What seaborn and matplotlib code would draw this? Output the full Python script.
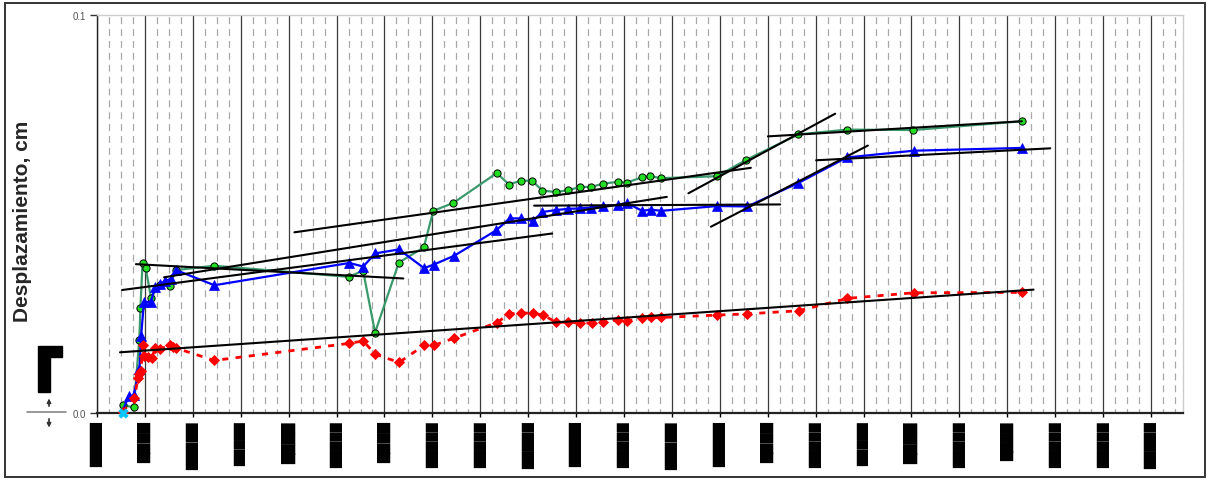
import matplotlib
matplotlib.use("Agg")
import matplotlib.pyplot as plt
import seaborn as sns
from matplotlib.lines import Line2D
from matplotlib.patches import Rectangle

# Monitoring days since first reading and cumulative displacement (cm)
green_days = [16.1, 23.0, 26.5, 27.2, 28.5, 30.5, 33.8, 39.3, 45.7, 49.2, 73.3,
              157.8, 166.6, 174.1, 189.0, 204.6, 210.6, 223.2, 250.3, 258.0, 265.4,
              272.6, 278.8, 287.5, 295.0, 302.5, 309.4, 316.7, 326.3, 331.7, 341.3,
              346.3, 353.2, 388.3, 406.5, 439.2, 469.5, 510.9, 579.1]
green_disp = [0.0020, 0.0014, 0.0184, 0.0264, 0.0376, 0.0364, 0.0290, 0.0322, 0.0320,
              0.0359, 0.0370, 0.0342, 0.0358, 0.0202, 0.0378, 0.0416, 0.0508, 0.0528,
              0.0603, 0.0574, 0.0584, 0.0583, 0.0559, 0.0555, 0.0560, 0.0568, 0.0568,
              0.0576, 0.0581, 0.0579, 0.0592, 0.0595, 0.0590, 0.0595, 0.0636, 0.0700,
              0.0712, 0.0711, 0.0733]

blue_days = [16.0, 20.0, 22.9, 26.6, 27.6, 29.4, 33.8, 36.3, 39.5, 42.6, 46.3, 49.5,
             73.5, 158.0, 166.7, 174.2, 189.1, 204.8, 210.9, 223.6, 250.0, 258.3,
             265.4, 272.9, 278.8, 287.5, 295.0, 302.5, 309.4, 316.9, 326.3, 331.7,
             341.3, 346.8, 353.4, 388.3, 407.3, 439.2, 469.5, 511.3, 579.3]
blue_disp = [0.0005, 0.0043, 0.0044, 0.0111, 0.0193, 0.0279, 0.0279, 0.0317, 0.0323,
             0.0332, 0.0337, 0.0359, 0.0321, 0.0377, 0.0368, 0.0401, 0.0411, 0.0364,
             0.0373, 0.0395, 0.0459, 0.0489, 0.0489, 0.0482, 0.0505, 0.0510, 0.0513,
             0.0514, 0.0516, 0.0520, 0.0523, 0.0528, 0.0508, 0.0511, 0.0508, 0.0520,
             0.0519, 0.0578, 0.0642, 0.0659, 0.0666]

red_days = [16.0, 23.4, 25.7, 26.6, 27.6, 28.5, 29.6, 32.1, 34.3, 36.5, 39.6, 45.4,
            47.4, 49.6, 73.4, 158.0, 166.7, 174.1, 189.1, 204.8, 210.9, 223.6, 250.3,
            258.2, 265.4, 272.8, 279.2, 287.7, 295.0, 302.5, 309.8, 316.7, 326.3,
            331.9, 341.2, 346.8, 353.4, 388.2, 406.9, 439.7, 469.9, 511.3, 579.3]
red_disp = [0.0003, 0.0038, 0.0088, 0.0098, 0.0106, 0.0172, 0.0142, 0.0141, 0.0139,
            0.0163, 0.0160, 0.0171, 0.0167, 0.0163, 0.0132, 0.0175, 0.0181, 0.0148,
            0.0127, 0.0170, 0.0170, 0.0188, 0.0227, 0.0249, 0.0251, 0.0251, 0.0246,
            0.0228, 0.0228, 0.0226, 0.0226, 0.0229, 0.0234, 0.0232, 0.0238, 0.0240,
            0.0240, 0.0246, 0.0249, 0.0257, 0.0288, 0.0302, 0.0303]

cross_days = [16.0]
cross_disp = [0.0]

# Fitted trend segments (start/end day, start/end displacement)
trend_x0 = [14.4, 24.4, 15.7, 42.0, 123.6, 273.7, 370.3, 384.4, 420.1, 450.3]
trend_y0 = [0.01525, 0.0374, 0.0309, 0.0341, 0.0454, 0.0521, 0.0552, 0.0468, 0.0695, 0.0635]
trend_x1 = [586.4, 191.8, 285.0, 356.8, 409.4, 427.8, 462.2, 482.7, 579.1, 596.9]
trend_y1 = [0.0310, 0.0338, 0.0451, 0.0543, 0.0616, 0.0524, 0.0752, 0.0672, 0.0733, 0.0665]

tick_days = list(range(0, 661, 30))
tick_labels = ["█████", "████", "█████", "█████", "████", "█████",
               "████", "█████", "█████", "█████", "█████", "█████",
               "█████", "█████", "████", "█████", "█████", "████",
               "█████", "████", "█████", "█████", "█████"]

# per-label font size for the date labels
label_sizes = [8.34, 9.50, 8.90, 8.16, 9.73, 8.53, 9.50, 8.53, 8.53, 8.71, 8.34, 8.53,
               8.90, 8.34, 9.50, 8.53, 8.16, 9.73, 8.53, 9.04, 8.53, 8.53, 8.71]

sns.set_style("white")
plt.rcParams["font.family"] = ["Liberation Sans", "DejaVu Sans"]

W, H = 1209, 481
fig = plt.figure(figsize=(W / 100, H / 100), dpi=100)
ax = fig.add_axes([97 / W, 1 - 414 / H, (1183 - 97) / W, (414 - 16) / H])

# series
sns.lineplot(x=green_days, y=green_disp, estimator=None, sort=False, ax=ax,
             color="#3a9a6c", linewidth=1.6, marker="o", markersize=5.2,
             markerfacecolor="#22dd22", markeredgecolor="black", markeredgewidth=0.7,
             zorder=3)
sns.lineplot(x=blue_days, y=blue_disp, estimator=None, sort=False, ax=ax,
             color="#0000ff", linewidth=1.6, marker="^", markersize=6.5,
             markerfacecolor="#0000ff", markeredgecolor="#0000ff", markeredgewidth=0.5,
             zorder=4)
sns.lineplot(x=red_days, y=red_disp, estimator=None, sort=False, ax=ax,
             color="#ff0000", linewidth=2.0, linestyle=(0, (2.2, 2.6)), marker="D",
             markersize=5.2, markerfacecolor="#ff0000", markeredgecolor="#ff0000",
             markeredgewidth=0.6, zorder=4)
sns.scatterplot(x=cross_days, y=cross_disp, ax=ax, marker="X", s=45,
                color="#00c8ff", edgecolor="#00c8ff", zorder=6, clip_on=False)

# trend segments
for xa, ya, xb, yb in zip(trend_x0, trend_y0, trend_x1, trend_y1):
    ax.plot([xa, xb], [ya, yb], color="black", linewidth=1.5, zorder=5)

ax.set_xlim(0, 680)
ax.set_ylim(0, 0.1)

# vertical grid: solid at major ticks, dashed at quarters
ax.set_xticks(tick_days)
ax.set_xticks([d + q for d in range(0, 680, 30) for q in (7.5, 15, 22.5) if d + q < 680],
              minor=True)
ax.grid(False)
ax.xaxis.grid(True, which="major", color="#3a3a3a", linewidth=0.9, zorder=0)
ax.xaxis.grid(True, which="minor", color="#a8a8a8", linewidth=0.9,
              linestyle=(2, (5.5, 4.0)), zorder=0)
ax.set_axisbelow(True)

ax.set_xticklabels(tick_labels, rotation=90, color="black",
                   family="DejaVu Sans", va="top", ha="center")
for lbl, fs in zip(ax.get_xticklabels(), label_sizes):
    lbl.set_fontsize(fs)
ax.tick_params(axis="x", which="major", length=3, width=1, color="black", pad=3,
               bottom=True)
ax.tick_params(axis="x", which="minor", length=0)

ax.set_yticks([0.0, 0.1])
ax.set_yticklabels(["0.0", "0.1"], fontsize=7, color="#555555")
ax.tick_params(axis="y", length=5, width=1, color="#333333", pad=3, left=True)

for side in ("top", "right"):
    ax.spines[side].set_color("#cccccc")
    ax.spines[side].set_linewidth(1)
ax.spines["left"].set_color("#222222")
ax.spines["left"].set_linewidth(1)
ax.spines["bottom"].set_color("#222222")
ax.spines["bottom"].set_linewidth(1.6)

ax.set_xlabel("")
ax.set_ylabel("")
fig.text(23 / W, 1 - 221.5 / H, "Desplazamiento, cm", rotation=90, fontsize=15,
         fontweight="bold", ha="center", va="center", family="Liberation Sans")

# left-hand panel glyph and scale handle
fig.patches.append(Rectangle((38 / W, 1 - 393 / H), 12 / W, 46 / H,
                             transform=fig.transFigure, color="black"))
fig.patches.append(Rectangle((50 / W, 1 - 358 / H), 12 / W, 11 / H,
                             transform=fig.transFigure, color="black"))
fig.lines.append(Line2D([27 / W, 66 / W], [1 - 413 / H, 1 - 413 / H],
                        transform=fig.transFigure, color="#888888", linewidth=1.2))
fig.add_artist(plt.annotate("", xy=(49 / W, 1 - 397 / H), xytext=(49 / W, 1 - 410 / H),
                            xycoords="figure fraction", textcoords="figure fraction",
                            arrowprops=dict(arrowstyle="-|>", color="#333333", lw=0.9,
                                            mutation_scale=6)))
fig.add_artist(plt.annotate("", xy=(49 / W, 1 - 431 / H), xytext=(49 / W, 1 - 417 / H),
                            xycoords="figure fraction", textcoords="figure fraction",
                            arrowprops=dict(arrowstyle="-|>", color="#333333", lw=0.9,
                                            mutation_scale=6)))

# chart frame
fig.patches.append(Rectangle((5 / W, 1 - 478 / H), 1200 / W, 474 / H,
                             transform=fig.transFigure, fill=False,
                             edgecolor="#333333", linewidth=1.4))

fig.savefig("out.png", dpi=100, facecolor="white")
